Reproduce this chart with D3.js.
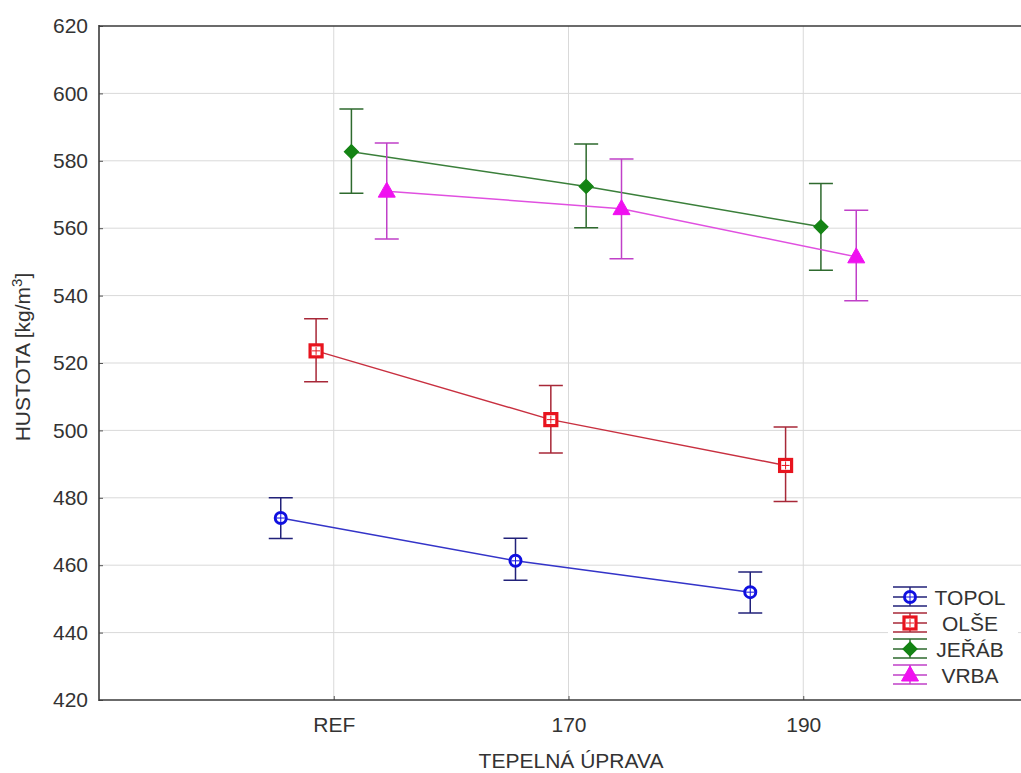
<!DOCTYPE html>
<html><head><meta charset="utf-8">
<script src="https://cdn.jsdelivr.net/npm/d3@7"></script>
<style>body{margin:0;background:#fff;} svg{display:block;font-family:"Liberation Sans",Arial,sans-serif;}</style>
</head><body>
<svg id="c" width="1021" height="773"></svg>
<script>
const categories = ["REF", "170", "190"];
const seriesNames = ["TOPOL", "OLŠE", "JEŘÁB", "VRBA"];
const topolMean = [474.0, 461.3, 452.0];
const topolLow  = [467.9, 455.5, 445.8];
const topolHigh = [480.0, 468.0, 458.0];
const olseMean = [523.6, 503.2, 489.6];
const olseLow  = [514.4, 493.3, 478.9];
const olseHigh = [533.1, 513.3, 501.0];
const jerabMean = [582.7, 572.4, 560.4];
const jerabLow  = [570.4, 560.1, 547.5];
const jerabHigh = [595.4, 585.0, 573.3];
const vrbaMean = [571.0, 565.8, 551.5];
const vrbaLow  = [556.8, 550.9, 538.5];
const vrbaHigh = [585.3, 580.5, 565.3];
const yTicks = [420, 440, 460, 480, 500, 520, 540, 560, 580, 600, 620];

const styles = {
  "TOPOL": {marker:"#1010e0", line:"#3434c8", err:"#22227a", shape:"circle"},
  "OLŠE":  {marker:"#e8141e", line:"#c83040", err:"#a82838", shape:"square"},
  "JEŘÁB": {marker:"#148414", line:"#3a7f3a", err:"#2e6a2e", shape:"diamond"},
  "VRBA":  {marker:"#f010f0", line:"#e050e0", err:"#c040c8", shape:"triangle"}
};
const series = [
  {name:"TOPOL", mean:topolMean, lo:topolLow, hi:topolHigh},
  {name:"OLŠE", mean:olseMean, lo:olseLow, hi:olseHigh},
  {name:"JEŘÁB", mean:jerabMean, lo:jerabLow, hi:jerabHigh},
  {name:"VRBA", mean:vrbaMean, lo:vrbaLow, hi:vrbaHigh}
];

const FS = 21;
const svg = d3.select("#c");
const L = 99, T = 26, B = 700, R = 1038;
const x = d3.scalePoint().domain(categories).range([L, R]).padding(1);
const off = d3.scalePoint().domain(seriesNames).range([-53, 53]);
const y = d3.scaleLinear().domain([420, 620]).range([B, T]);

// grid
const g = svg.append("g");
g.selectAll("line.h").data(yTicks.filter(v => v > 420 && v < 620)).join("line")
  .attr("x1", L).attr("x2", R).attr("y1", d => y(d)).attr("y2", d => y(d))
  .attr("stroke", "#d9d9d9").attr("stroke-width", 1);
g.selectAll("line.v").data(categories).join("line")
  .attr("x1", d => x(d)).attr("x2", d => x(d)).attr("y1", T).attr("y2", B)
  .attr("stroke", "#d9d9d9").attr("stroke-width", 1);

// axes
const yAxis = d3.axisLeft(y).tickValues(yTicks).tickSize(-4).tickPadding(11);
const ya = svg.append("g").attr("transform", `translate(${L},0)`).call(yAxis);
const xAxis = d3.axisBottom(x).tickSize(-4).tickPadding(17);
const xa = svg.append("g").attr("transform", `translate(0,${B})`).call(xAxis);
[ya, xa].forEach(a => {
  a.select(".domain").remove();
  a.selectAll(".tick line").attr("stroke", "#555");
  a.selectAll("text").attr("font-size", FS).attr("fill", "#333")
    .attr("font-family", "'Liberation Sans',Arial,sans-serif");
});
svg.append("line").attr("x1", L).attr("x2", L).attr("y1", T - 1).attr("y2", B + 1).attr("stroke", "#3a3a3a").attr("stroke-width", 1.6);
svg.append("line").attr("x1", L).attr("x2", R).attr("y1", B).attr("y2", B).attr("stroke", "#3a3a3a").attr("stroke-width", 1.6);
svg.append("line").attr("x1", L).attr("x2", R).attr("y1", T).attr("y2", T).attr("stroke", "#3a3a3a").attr("stroke-width", 1.6);

// axis titles
svg.append("text").attr("x", 571).attr("y", 768).attr("text-anchor", "middle")
  .attr("font-size", FS).attr("fill", "#333").text("TEPELNÁ ÚPRAVA");
const yt = svg.append("text").attr("transform", `translate(30,${357}) rotate(-90)`)
  .attr("text-anchor", "middle").attr("font-size", FS).attr("fill", "#333");
yt.append("tspan").text("HUSTOTA [kg/m");
yt.append("tspan").attr("dy", -8).attr("font-size", 15).text("3");
yt.append("tspan").attr("dy", 8).text("]");

function drawMarker(sel, shape, color, cx, cy) {
  if (shape === "circle") {
    sel.append("circle").attr("cx", cx).attr("cy", cy).attr("r", 5.5)
      .attr("fill", "#fff").attr("stroke", color).attr("stroke-width", 3);
    sel.append("path").attr("d", `M${cx - 4},${cy}H${cx + 4}M${cx},${cy - 4}V${cy + 4}`)
      .attr("stroke", color).attr("stroke-width", 1);
  } else if (shape === "square") {
    sel.append("rect").attr("x", cx - 6).attr("y", cy - 6).attr("width", 12).attr("height", 12)
      .attr("fill", "#fff").attr("stroke", color).attr("stroke-width", 3.2);
    sel.append("path").attr("d", `M${cx - 4},${cy}H${cx + 4}M${cx},${cy - 4}V${cy + 4}`)
      .attr("stroke", color).attr("stroke-width", 1);
  } else if (shape === "diamond") {
    sel.append("path").attr("d", `M${cx},${cy - 7}L${cx + 7},${cy}L${cx},${cy + 7}L${cx - 7},${cy}Z`)
      .attr("fill", color).attr("stroke", color).attr("stroke-width", 1.2);
  } else {
    sel.append("path").attr("d", `M${cx},${cy - 9}L${cx + 8.5},${cy + 6}L${cx - 8.5},${cy + 6}Z`)
      .attr("fill", color).attr("stroke", color).attr("stroke-width", 1);
  }
}

const cap = 12;
series.forEach(s => {
  const st = styles[s.name];
  const gs = svg.append("g");
  const pts = categories.map((c, i) => ({cx: x(c) + off(s.name), m: s.mean[i], lo: s.lo[i], hi: s.hi[i]}));
  gs.append("path").datum(pts)
    .attr("d", d3.line().x(d => d.cx).y(d => y(d.m)))
    .attr("fill", "none").attr("stroke", st.line).attr("stroke-width", 1.5);
  pts.forEach(p => {
    gs.append("path").attr("d",
      `M${p.cx},${y(p.lo)}V${y(p.hi)}M${p.cx - cap},${y(p.lo)}H${p.cx + cap}M${p.cx - cap},${y(p.hi)}H${p.cx + cap}`)
      .attr("fill", "none").attr("stroke", st.err).attr("stroke-width", 1.5);
  });
  pts.forEach(p => drawMarker(gs, st.shape, st.marker, p.cx, y(p.m)));
});

// legend
const lg = svg.append("g");
lg.append("rect").attr("x", 888).attr("y", 582).attr("width", 130).attr("height", 104).attr("fill", "#fff");
seriesNames.forEach((n, i) => {
  const st = styles[n];
  const cy = 597 + i * 26, cx = 910;
  lg.append("path").attr("d", `M${cx - 17},${cy - 10}H${cx + 17}M${cx - 17},${cy}H${cx + 17}M${cx - 17},${cy + 9}H${cx + 17}M${cx},${cy - 10}V${cy + 9}`)
    .attr("stroke", st.err).attr("stroke-width", 1.4).attr("fill", "none");
  drawMarker(lg, st.shape, st.marker, cx, cy);
  lg.append("text").attr("x", 970).attr("y", cy + 7.5).attr("text-anchor", "middle")
    .attr("font-size", FS).attr("fill", "#333").text(n);
});
</script>
</body></html>
